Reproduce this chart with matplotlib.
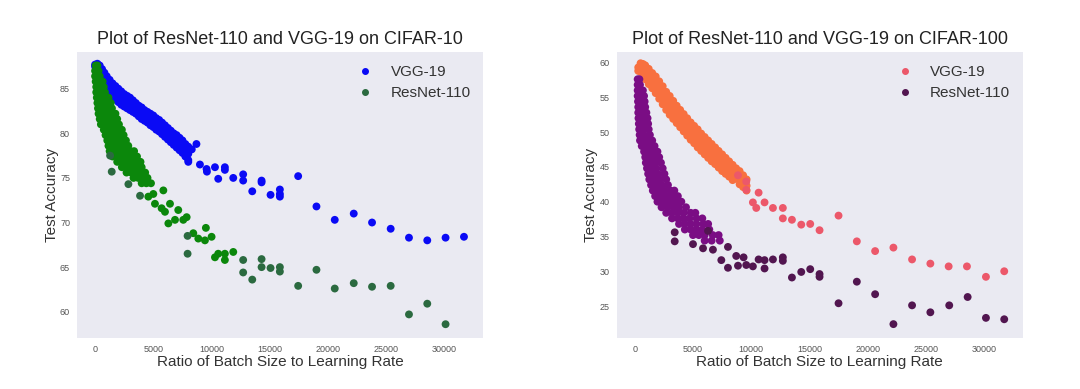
import matplotlib
matplotlib.use("Agg")
import matplotlib.pyplot as plt
from matplotlib.lines import Line2D

plt.rcParams['font.family'] = ['Liberation Sans', 'DejaVu Sans']

# ---------------- CIFAR-10 ----------------
# VGG-19 (blue): dense band read column by column, then the sparse tail
c10_vgg_x = [0, 0,
             200, 200, 200, 400, 400, 400, 600, 600, 600, 800, 800, 800,
             1000, 1000, 1000, 1250, 1250, 1250, 1500, 1500, 1500, 1750, 1750, 1750,
             2000, 2000, 2000, 2250, 2250, 2250, 2500, 2500, 2500, 2750, 2750, 2750,
             3000, 3000, 3000, 3250, 3250, 3250, 3500, 3500, 3500, 3750, 3750, 3750,
             4000, 4000, 4000, 4250, 4250, 4250, 4500, 4500, 4500, 4750, 4750, 4750,
             5000, 5000, 5000, 5250, 5250, 5250, 5500, 5500, 5500, 5750, 5750, 5750,
             6000, 6000, 6000, 6250, 6250, 6250, 6500, 6500, 6500, 6750, 6750, 6750,
             7000, 7000, 7000, 7250, 7250, 7250, 7500, 7500, 7500, 7750, 7750, 7750,
             8000, 8000, 8000, 8300, 8700, 8000,
             9000, 9570, 9600, 10290, 10570, 11140, 11140, 11860, 12710, 12710, 13490,
             14290, 14290, 15060, 15860, 15860, 15860, 17430, 19000, 20570, 22200,
             23770, 25370, 26940, 28510, 30080, 31660]
c10_vgg_y = [87.7, 87.5,
             87.8, 87.4, 87.0, 87.6, 87.1, 86.6, 87.2, 86.5, 85.9, 86.8, 86.1, 85.4,
             86.4, 85.7, 85.0, 86.0, 85.3, 84.6, 85.6, 84.9, 84.2, 85.3, 84.6, 83.8,
             85.0, 84.2, 83.5, 84.7, 83.9, 83.2, 84.4, 83.7, 83.0, 84.2, 83.4, 82.8,
             84.0, 83.3, 82.6, 83.7, 83.0, 82.4, 83.4, 82.8, 82.2, 83.1, 82.5, 81.9,
             82.9, 82.2, 81.6, 82.6, 82.0, 81.4, 82.4, 81.8, 81.2, 82.2, 81.5, 80.9,
             82.0, 81.3, 80.7, 81.7, 81.0, 80.4, 81.5, 80.8, 80.2, 81.2, 80.5, 79.9,
             80.9, 80.2, 79.6, 80.6, 79.9, 79.3, 80.3, 79.6, 79.0, 80.0, 79.3, 78.7,
             79.8, 79.1, 78.4, 79.5, 78.8, 78.1, 79.2, 78.5, 77.8, 78.8, 78.1, 77.4,
             78.5, 77.7, 77.0, 78.2, 78.8, 76.8,
             76.5, 76.0, 75.7, 76.2, 74.9, 76.2, 75.9, 75.0, 75.4, 74.7, 73.5,
             74.7, 74.5, 73.1, 73.7, 73.2, 72.9, 75.2, 71.8, 70.3, 71.0,
             70.0, 69.3, 68.3, 68.0, 68.3, 68.4]

# ResNet-110 (green): dense cluster read row by row
c10_res_dense_x = [50, 200,
                   0, 150, 300,
                   0, 200, 400,
                   50, 250, 450, 650,
                   100, 300, 500, 750,
                   100, 350, 600, 850,
                   150, 400, 700, 1000, 1150,
                   200, 450, 750, 1050, 1350,
                   250, 550, 850, 1150, 1450,
                   300, 650, 1000, 1350, 1750,
                   400, 750, 1100, 1500, 1900,
                   500, 850, 1250, 1650, 2050,
                   750, 1100, 1450, 1850, 2300,
                   900, 1250, 1650, 2050, 2450,
                   1050, 1450, 1850, 2250, 2650,
                   1150, 1550, 1950, 2400, 2850,
                   1250, 1700, 2150, 2600, 3050, 3350,
                   1500, 1950, 2400, 2850, 3300, 3600,
                   1900, 2300, 2750, 3200, 3650, 3900,
                   2300, 2700, 3100, 3550, 4000,
                   2700, 3100, 3500, 3900, 4300,
                   3300, 3700, 4100, 4500,
                   4000, 4400, 4800,
                   4570, 5000, 5860, 5140, 5710, 6430, 7140, 6000, 6290, 6860, 7570, 7860,
                   8430, 8860, 9430, 9510, 10000, 10290, 10570, 11140, 11140, 11860]
c10_res_dense_y = [87.6, 87.6,
                   87.0, 87.0, 87.0,
                   86.4, 86.4, 86.4,
                   85.8, 85.8, 85.8, 85.8,
                   85.2, 85.2, 85.2, 85.2,
                   84.6, 84.6, 84.6, 84.6,
                   84.0, 84.0, 84.0, 84.0, 84.0,
                   83.4, 83.4, 83.4, 83.4, 83.4,
                   82.8, 82.8, 82.8, 82.8, 82.8,
                   82.2, 82.2, 82.2, 82.2, 82.2,
                   81.6, 81.6, 81.6, 81.6, 81.6,
                   81.0, 81.0, 81.0, 81.0, 81.0,
                   80.4, 80.4, 80.4, 80.4, 80.4,
                   79.8, 79.8, 79.8, 79.8, 79.8,
                   79.2, 79.2, 79.2, 79.2, 79.2,
                   78.6, 78.6, 78.6, 78.6, 78.6,
                   78.0, 78.0, 78.0, 78.0, 78.0, 78.0,
                   77.4, 77.4, 77.4, 77.4, 77.4, 77.4,
                   76.8, 76.8, 76.8, 76.8, 76.8, 76.8,
                   76.2, 76.2, 76.2, 76.2, 76.2,
                   75.6, 75.6, 75.6, 75.6, 75.6,
                   75.0, 75.0, 75.0, 75.0,
                   74.4, 74.4, 74.4,
                   72.9, 73.2, 73.6, 72.1, 71.6, 72.1, 71.4, 71.2, 69.9, 70.3, 70.3, 70.6,
                   68.8, 68.2, 68.0, 69.4, 68.4, 66.1, 66.5, 66.5, 65.8, 66.7]
c10_res_sparse_x = [1290, 1430, 2860, 3860, 7940, 7940, 12710, 12710, 13490, 14290, 14290,
                    15060, 15860, 15860, 17430, 19000, 20570, 22200, 23770, 25370, 26940,
                    28510, 30080]
c10_res_sparse_y = [77.5, 75.7, 74.3, 73.0, 68.5, 66.5, 65.8, 64.4, 63.6, 65.9, 65.0,
                    64.9, 65.0, 64.5, 62.9, 64.7, 62.6, 63.2, 62.8, 62.9, 59.7,
                    60.9, 58.6]

# ---------------- CIFAR-100 ----------------
# VGG-19 (orange band, pink tail)
c100_vgg_dense_x = [300, 300,
                    500, 500, 500, 700, 700, 700,
                    900, 900, 900, 900, 1200, 1200, 1200, 1200, 1500, 1500, 1500, 1500,
                    1800, 1800, 1800, 1800, 2100, 2100, 2100, 2100, 2400, 2400, 2400, 2400,
                    2700, 2700, 2700, 2700, 3000, 3000, 3000, 3000, 3300, 3300, 3300, 3300,
                    3600, 3600, 3600, 3600, 3900, 3900, 3900, 3900, 4200, 4200, 4200, 4200,
                    4500, 4500, 4500, 4500, 4800, 4800, 4800, 4800, 5100, 5100, 5100, 5100,
                    5400, 5400, 5400, 5400, 5700, 5700, 5700, 5700, 6000, 6000, 6000, 6000,
                    6300, 6300, 6300, 6300, 6600, 6600, 6600, 6600, 6900, 6900, 6900, 6900,
                    7200, 7200, 7200, 7200, 7500, 7500, 7500, 7500, 7800, 7800, 7800, 7800,
                    8100, 8100, 8100, 8100, 8400, 8400, 8400, 8400,
                    8700, 8700, 8700, 9000, 9000, 9000, 9300, 9300, 9300, 9600, 9600, 9600]
c100_vgg_dense_y = [59.3, 58.8,
                    59.9, 59.3, 58.7, 59.8, 59.1, 58.4,
                    59.6, 58.9, 58.2, 57.6, 59.1, 58.4, 57.6, 56.9, 58.5, 57.8, 57.0, 56.3,
                    58.0, 57.2, 56.4, 55.6, 57.3, 56.5, 55.6, 54.8, 56.6, 55.8, 54.9, 54.0,
                    55.8, 55.0, 54.1, 53.2, 55.2, 54.3, 53.4, 52.5, 54.5, 53.6, 52.8, 51.9,
                    53.8, 53.0, 52.1, 51.3, 53.2, 52.3, 51.5, 50.7, 52.6, 51.7, 50.9, 50.1,
                    52.0, 51.2, 50.3, 49.5, 51.4, 50.6, 49.7, 48.9, 50.9, 50.0, 49.2, 48.4,
                    50.4, 49.5, 48.6, 47.8, 49.8, 49.0, 48.1, 47.3, 49.3, 48.5, 47.6, 46.8,
                    48.8, 48.0, 47.1, 46.3, 48.3, 47.5, 46.7, 45.8, 47.8, 47.0, 46.2, 45.4,
                    47.3, 46.5, 45.7, 44.9, 46.8, 46.0, 45.2, 44.4, 46.3, 45.5, 44.7, 44.0,
                    45.8, 45.0, 44.2, 43.6, 45.3, 44.5, 43.8, 43.1,
                    44.8, 44.0, 43.3, 44.4, 43.4, 42.5, 43.8, 42.9, 42.1, 43.2, 42.3, 41.6]
c100_vgg_sparse_x = [8860, 9570, 9570, 10140, 10630, 10430, 11140, 11860, 12710, 12710, 13490,
                     14290, 15060, 15860, 17490, 19060, 20630, 22200, 23800, 25370, 26940,
                     28510, 30140, 31710]
c100_vgg_sparse_y = [43.8, 42.9, 41.7, 39.9, 41.3, 39.1, 39.9, 39.1, 39.1, 37.6, 37.4,
                     36.7, 36.8, 35.9, 38.0, 34.3, 32.9, 33.4, 31.7, 31.1, 30.7,
                     30.7, 29.2, 30.0]

# ResNet-110 (purple): dense cluster read row by row, then the dark tail
c100_res_dense_x = [250, 400,
                    250, 450,
                    250, 500, 700,
                    250, 500, 800,
                    280, 550, 850,
                    300, 600, 900,
                    300, 650, 1000,
                    320, 700, 1100,
                    350, 700, 1150,
                    380, 750, 1200,
                    420, 800, 1300,
                    450, 850, 1250, 1500,
                    600, 1000, 1400, 1700,
                    800, 1150, 1500, 1950,
                    900, 1250, 1650, 2100,
                    950, 1350, 1750, 2250,
                    1050, 1450, 1850, 2400,
                    1150, 1550, 2000, 2550,
                    1250, 1700, 2150, 2700,
                    1400, 1850, 2300, 2850,
                    1550, 2000, 2500, 3050, 3400,
                    1750, 2200, 2700, 3200, 3700,
                    1950, 2450, 2950, 3450, 4000,
                    2300, 2800, 3300, 3800, 4400,
                    2700, 3200, 3700, 4200, 4800, 5200,
                    3200, 3700, 4200, 4700, 5300, 5800,
                    3800, 4300, 4800, 5300, 5900, 6300,
                    4300, 4800, 5300, 5800, 6400,
                    5000, 5500, 6000, 6700, 7200,
                    6000, 6600, 7300]
c100_res_dense_y = [57.6, 57.6,
                    56.8, 56.8,
                    56.0, 56.0, 56.0,
                    55.2, 55.2, 55.2,
                    54.4, 54.4, 54.4,
                    53.6, 53.6, 53.6,
                    52.8, 52.8, 52.8,
                    52.0, 52.0, 52.0,
                    51.2, 51.2, 51.2,
                    50.4, 50.4, 50.4,
                    49.6, 49.6, 49.6,
                    48.8, 48.8, 48.8, 48.8,
                    48.0, 48.0, 48.0, 48.0,
                    47.2, 47.2, 47.2, 47.2,
                    46.4, 46.4, 46.4, 46.4,
                    45.6, 45.6, 45.6, 45.6,
                    44.8, 44.8, 44.8, 44.8,
                    44.0, 44.0, 44.0, 44.0,
                    43.2, 43.2, 43.2, 43.2,
                    42.4, 42.4, 42.4, 42.4,
                    41.6, 41.6, 41.6, 41.6, 41.6,
                    40.8, 40.8, 40.8, 40.8, 40.8,
                    40.0, 40.0, 40.0, 40.0, 40.0,
                    39.2, 39.2, 39.2, 39.2, 39.2,
                    38.4, 38.4, 38.4, 38.4, 38.4, 38.4,
                    37.6, 37.6, 37.6, 37.6, 37.6, 37.6,
                    36.8, 36.8, 36.8, 36.8, 36.8, 36.8,
                    36.0, 36.0, 36.0, 36.0, 36.0,
                    35.2, 35.2, 35.2, 35.2, 35.2,
                    34.4, 34.4, 34.4]
c100_res_sparse_x = [3430, 3430, 5000, 6290, 5860, 6710, 7430, 8000, 8000, 8710, 8860, 9340,
                     9570, 10140, 10630, 11140, 11140, 11860, 12710, 12710, 13490, 14290,
                     15060, 15860, 15860, 17490, 19060, 20630, 22200, 23800, 25370, 26990,
                     28570, 30140, 31710]
c100_res_sparse_y = [34.3, 35.6, 33.9, 35.8, 33.3, 33.1, 31.6, 33.5, 30.5, 32.2, 30.8, 32.0,
                     30.9, 30.7, 31.7, 31.6, 30.4, 31.7, 32.0, 31.5, 29.1, 29.9,
                     30.3, 29.6, 29.2, 25.4, 28.5, 26.7, 22.4, 25.1, 24.1, 25.1,
                     26.3, 23.3, 23.1]

xticks = [0, 5000, 10000, 15000, 20000, 25000, 30000]

fig = plt.figure(figsize=(10.8, 3.89), dpi=100)
ax1 = fig.add_axes([0.0713, 0.131, 0.376, 0.735])
ax2 = fig.add_axes([0.571, 0.131, 0.376, 0.735])

ms = 32

ax1.scatter(c10_vgg_x, c10_vgg_y, s=ms, color='#0a0af5', edgecolors='none')
ax1.scatter(c10_res_dense_x, c10_res_dense_y, s=ms, color='#0b870b', edgecolors='none')
ax1.scatter(c10_res_sparse_x, c10_res_sparse_y, s=ms, color='#2b6a40', edgecolors='none')
ax1.set_title("Plot of ResNet-110 and VGG-19 on CIFAR-10")
h1 = [Line2D([], [], ls='none', marker='o', ms=4, color='#0a0af5'),
      Line2D([], [], ls='none', marker='o', ms=4, color='#2b6a40')]
ax1.legend(h1, ['VGG-19', 'ResNet-110'], loc='upper right')

ax2.scatter(c100_vgg_dense_x, c100_vgg_dense_y, s=ms, color='#f8703f', edgecolors='none')
ax2.scatter(c100_vgg_sparse_x, c100_vgg_sparse_y, s=ms, color='#ec586a', edgecolors='none')
ax2.scatter(c100_res_dense_x, c100_res_dense_y, s=ms, color='#7a0d84', edgecolors='none')
ax2.scatter(c100_res_sparse_x, c100_res_sparse_y, s=ms, color='#521650', edgecolors='none')
ax2.set_title("Plot of ResNet-110 and VGG-19 on CIFAR-100")
h2 = [Line2D([], [], ls='none', marker='o', ms=4, color='#ec586a'),
      Line2D([], [], ls='none', marker='o', ms=4, color='#521650')]
ax2.legend(h2, ['VGG-19', 'ResNet-110'], loc='upper right')

for ax in (ax1, ax2):
    ax.set_facecolor('#eaeaf2')
    for sp in ax.spines.values():
        sp.set_visible(False)
    ax.set_xticks(xticks)
    ax.tick_params(length=0, labelsize=6.5, labelcolor='#555555', pad=5)
    ax.set_xlabel("Ratio of Batch Size to Learning Rate", fontsize=11, color='#333333', labelpad=1)
    ax.set_ylabel("Test Accuracy", fontsize=11, color='#333333', labelpad=1)
    ax.title.set_fontsize(13)
    ax.title.set_color('#222222')
    leg = ax.get_legend()
    leg.get_frame().set_visible(False)
    for t in leg.get_texts():
        t.set_fontsize(11)
        t.set_color('#333333')
    ax.set_xlim(-1550, 33300)

ax1.set_ylim(57.05, 89.1)
ax2.set_ylim(20.4, 61.5)

fig.savefig("out.png", dpi=100)
